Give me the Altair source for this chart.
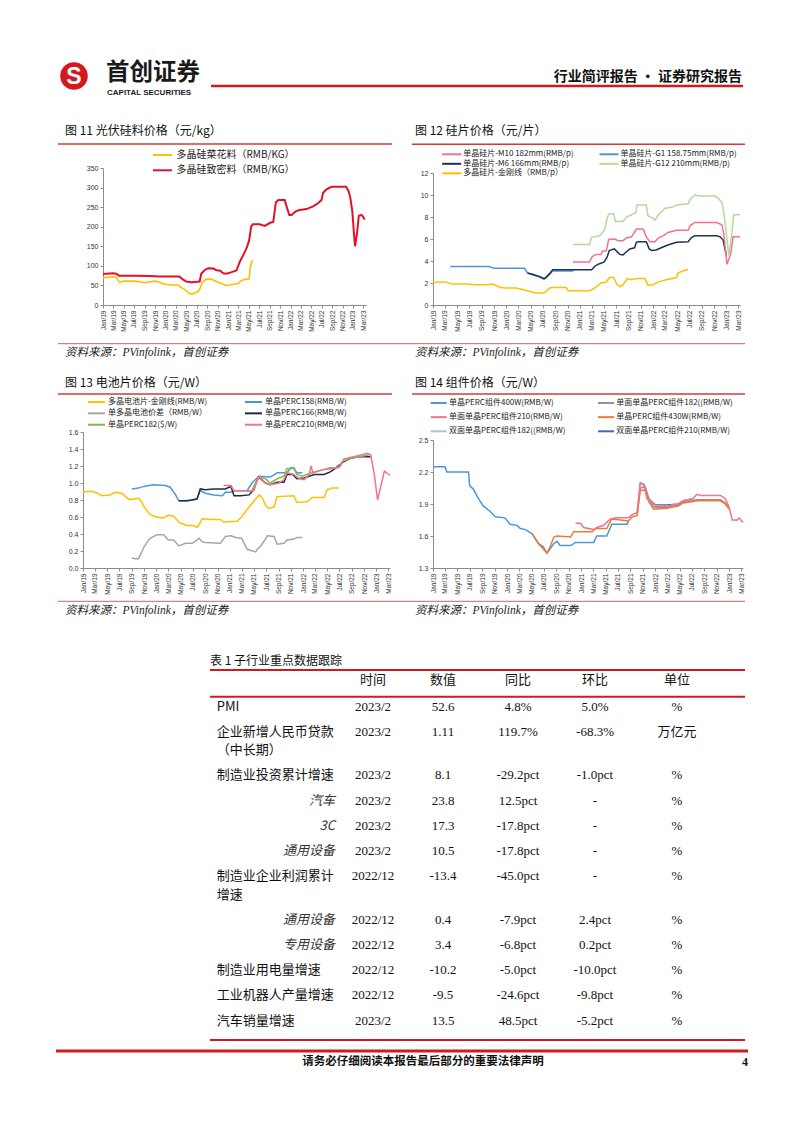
import altair as alt
import pandas as pd

CJK = "Noto Sans CJK SC"
SANS = "Liberation Sans"
SERIF = "Liberation Serif, Noto Sans CJK SC"
RED = "#D51820"
LINE_RED = "#D03A3A"

# ---------------- data: (months after Jan 2019, value) ----------------
F11_NAMES = ["多晶硅菜花料（RMB/KG）", "多晶硅致密料（RMB/KG）"]
F11_COLORS = ["#FFC000", "#E3102B"]
F11_CAULI = [(0,70),(1.9,72),(2.6,71),(3.1,60),(3.3,58),(4,61),(6.4,61),(8,57),(10,61),(11,58),(11.5,54),(12,53),(13,51),(14.5,51),(15,45),(15.7,40),(16.3,33),(16.7,29),(17.3,28),(18.3,35),(18.6,40),(19.1,58),(19.9,66),(20.8,66),(22.1,58),(23.1,53),(23.7,50),(25,53),(26,55),(26.6,62),(27.2,65),(27.9,66),(28.1,67),(28.3,95),(28.7,115)]
F11_DENSE = [(0,79),(1.9,81),(2.6,80),(3.1,75),(6.4,75),(9,74),(10.9,73),(14.7,73),(15.3,66),(16,60),(17,58),(18.6,60),(18.9,80),(19.6,90),(20.2,94),(21.2,93),(21.8,89),(22.4,88),(23.1,81),(23.7,80),(24.7,84),(25.6,88),(26.3,110),(26.9,125),(27.6,145),(28.1,165),(28.5,200),(28.8,206),(30.1,206),(31.1,202),(32.1,210),(32.7,212),(33.2,262),(33.7,268),(34.9,268),(35.3,250),(35.8,230),(36.2,230),(36.9,238),(37.5,242),(39.1,245),(40.4,252),(41.3,260),(42,268),(42.3,286),(42.9,295),(43.9,302),(46.7,302),(47.2,290),(47.5,275),(47.9,240),(48.2,180),(48.4,150),(48.8,185),(49.1,228),(49.6,230),(50,226),(50.3,218)]

F12_NAMES = ["单晶硅片-M10 182mm(RMB/p)", "单晶硅片-G1 158.75mm(RMB/p)", "单晶硅片-M6 166mm(RMB/p)", "单晶硅片-G12 210mm(RMB/p)", "多晶硅片-金刚线（RMB/p）"]
F12_COLORS = ["#F4728F", "#4E95D9", "#1F3050", "#B5D99C", "#FFC000"]
F12_M10 = [(22.9,3.9),(25.6,3.9),(26.1,4.4),(26.7,4.6),(27.5,4.6),(27.8,4.9),(28.4,4.9),(28.8,5.95),(29.8,6.0),(30.3,5.85),(31.1,5.85),(31.7,6.1),(32.5,6.2),(33.3,6.9),(34.4,6.9),(34.9,6.2),(35.5,5.75),(36.3,5.75),(36.9,6.1),(37.7,6.3),(38.5,6.6),(39.9,6.8),(41.8,6.8),(42.1,7.2),(42.9,7.5),(46.4,7.5),(47.3,7.3),(47.6,6.5),(48.1,3.7),(48.7,4.6),(49.1,6.2),(50.3,6.2)]
F12_G1 = [(2.9,3.5),(9.2,3.5),(10,3.33),(15,3.33),(15.5,2.9),(16.3,2.75),(17.4,2.55),(18.2,2.35),(18.5,2.45),(19.1,2.8),(19.6,3.1),(23.0,3.1)]
F12_M6 = [(15.5,2.9),(16.3,2.8),(17.4,2.6),(18.2,2.4),(18.5,2.5),(19.1,2.85),(19.6,3.2),(26,3.2),(26.5,3.5),(27,3.7),(27.5,3.8),(28,3.9),(28.5,4.3),(28.9,4.95),(29.7,5.1),(30.6,4.6),(31.1,4.55),(31.6,4.8),(32.2,5.1),(33,5.2),(33.3,5.7),(33.6,5.75),(34.9,5.75),(35.4,5.1),(35.8,4.95),(36.5,5.0),(37.7,5.3),(38.5,5.45),(39.9,5.7),(41.8,5.75),(42.3,6.1),(42.9,6.3),(46.4,6.3),(47,6.2),(47.5,5.9),(48,4.5)]
F12_G12 = [(22.9,5.5),(25.6,5.5),(25.9,6.15),(27.3,6.3),(28.1,6.8),(28.6,8.0),(28.9,8.3),(29.6,8.3),(29.9,7.6),(31.1,7.6),(31.7,8.0),(32.5,8.2),(33.2,8.4),(33.4,9.1),(34.9,9.1),(35.2,8.1),(36,7.9),(36.3,7.7),(36.9,8.2),(38,8.8),(39.3,8.9),(39.9,9.1),(41.8,9.2),(42.1,9.6),(42.9,10.0),(43.7,9.9),(46.2,9.9),(46.7,9.7),(47.3,9.3),(47.6,8.5),(48,6.5),(48.4,4.5),(48.9,6.5),(49.2,8.2),(50.3,8.2)]
F12_POLY = [(0,2.0),(0.7,2.1),(2.1,2.1),(2.6,2.0),(3.2,1.9),(5.6,1.9),(7,1.85),(8.7,1.85),(9.7,1.9),(10.3,1.8),(11.1,1.6),(11.9,1.55),(13.6,1.55),(14.7,1.4),(15.8,1.25),(16.9,1.1),(18,1.1),(18.5,1.2),(19.1,1.55),(19.6,1.6),(21.8,1.6),(22.1,1.3),(25.6,1.3),(26.7,1.6),(27.5,2.0),(28.4,2.1),(28.9,2.5),(29.6,2.5),(30.1,1.9),(30.6,1.7),(31.1,1.8),(31.8,2.4),(32.5,2.3),(33.3,2.4),(34.7,2.4),(35.2,1.8),(36,1.85),(36.9,2.1),(38.2,2.3),(39.9,2.5),(40.1,2.9),(41.5,3.2),(41.8,3.2)]

F13_NAMES = ["多晶电池片-金刚线(RMB/W)", "单晶PERC158(RMB/W)", "单多晶电池价差（RMB/W）", "单晶PERC166(RMB/W)", "单晶PERC182($/W)", "单晶PERC210(RMB/W)"]
F13_COLORS = ["#FFC000", "#4E95D9", "#A6A6A6", "#1F2A44", "#7CBF4A", "#F4728F"]
F13_POLY = [(0,0.89),(0.8,0.9),(1.7,0.9),(2.4,0.88),(3.1,0.85),(4.5,0.86),(5.3,0.89),(6.4,0.88),(7.5,0.81),(8.2,0.81),(9.1,0.82),(9.6,0.78),(10,0.72),(11,0.63),(12,0.6),(12.7,0.59),(13.2,0.59),(14,0.62),(14.9,0.61),(15.7,0.54),(16.3,0.52),(17,0.5),(18.1,0.5),(18.7,0.48),(19.1,0.52),(19.5,0.58),(21,0.57),(22.5,0.57),(23,0.54),(25.2,0.55),(26,0.6),(26.8,0.68),(27.7,0.76),(28.4,0.82),(28.9,0.86),(29.4,0.82),(29.9,0.74),(30.4,0.70),(31.3,0.72),(31.8,0.84),(34.5,0.85),(35,0.77),(36.7,0.78),(37.5,0.83),(39.5,0.83),(40,0.92),(40.8,0.94),(41.9,0.94)]
F13_P158 = [(8,0.93),(9.1,0.94),(10,0.96),(10.8,0.97),(11.6,0.98),(13.5,0.97),(14.3,0.95),(15.1,0.87),(15.7,0.79),(17,0.79),(18,0.8),(18.7,0.82),(19.2,0.91),(20,0.88),(21.4,0.86),(22.8,0.85),(23.3,0.89),(24.2,0.89),(24.7,0.91),(26.9,0.91),(27.7,1.0),(28.8,1.08),(30.7,1.07),(31.8,1.12),(33.4,1.12),(34,1.18),(34.5,1.18),(35,1.12),(35.9,1.12)]
F13_SPREAD = [(8,0.12),(8.5,0.11),(9.1,0.11),(9.6,0.18),(10,0.25),(11,0.35),(12.1,0.39),(13.2,0.39),(14,0.33),(14.9,0.33),(15.7,0.26),(16.8,0.29),(17.9,0.29),(18.5,0.32),(19,0.35),(19.5,0.31),(20,0.3),(22.5,0.29),(23.3,0.37),(24.2,0.38),(25,0.36),(26,0.35),(26.5,0.28),(26.9,0.22),(28.3,0.19),(28.6,0.22),(29.1,0.26),(29.7,0.32),(30.2,0.38),(31.3,0.37),(31.8,0.28),(32.9,0.29),(33.4,0.33),(34.5,0.34),(35,0.36),(35.9,0.36)]
F13_P166 = [(15.7,0.79),(17,0.79),(18.7,0.81),(19.2,0.93),(20,0.92),(21.4,0.93),(23.3,0.93),(24.2,0.96),(24.7,0.85),(25.8,0.85),(27.2,0.86),(27.7,0.9),(28.8,1.07),(29.9,1.0),(30.7,0.98),(31.8,1.01),(32.9,1.01),(33.4,1.1),(34.3,1.1),(35,1.05),(36.2,1.06),(37.8,1.1),(39.5,1.1),(40.5,1.13),(41.1,1.16),(42.7,1.25),(43.8,1.29),(45.2,1.31),(47.1,1.31)]
F13_P182 = [(26.9,0.9),(27.7,0.91),(28.8,1.07),(29.9,1.05),(30.7,1.0),(31.8,1.05),(32.9,1.08),(33.4,1.17),(34.5,1.17),(35,1.1),(35.9,1.08),(37.8,1.13),(39.5,1.16),(40.5,1.18),(41.9,1.18),(42.4,1.25),(43.8,1.29),(45.2,1.31),(46.8,1.33)]
F13_P210 = [(23,0.97),(24.2,0.97),(24.7,0.91),(26.9,0.91),(28,0.91),(28.8,1.08),(29.9,1.0),(30.7,0.98),(32.1,1.0),(32.9,1.04),(33.4,1.12),(34.5,1.1),(35.4,1.05),(36.2,1.04),(37,1.1),(37.3,1.2),(37.6,1.12),(39.5,1.16),(41.1,1.17),(42.2,1.2),(42.7,1.28),(43.8,1.3),(45.5,1.33),(46.6,1.35),(47.1,1.33),(47.7,1.1),(48.2,0.8),(48.7,0.95),(49.3,1.14),(50.1,1.1),(50.3,1.09)]

F14_NAMES = ["单晶PERC组件400W(RMB/W)", "单面单晶PERC组件182((RMB/W)", "单面单晶PERC组件210(RMB/W)", "单晶PERC组件430W(RMB/W)", "双面单晶PERC组件182((RMB/W)", "双面单晶PERC组件210(RMB/W)"]
F14_COLORS = ["#4E95D9", "#9C8F86", "#F4728F", "#ED7D31", "#A9C4E8", "#4664B4"]
F14_400 = [(0,2.25),(2,2.25),(2.3,2.2),(5.8,2.2),(6,2.07),(6.6,2.04),(7.4,1.95),(8.2,1.88),(9.3,1.83),(10.1,1.78),(11.7,1.77),(12.5,1.71),(13.6,1.7),(14.2,1.67),(15,1.66),(16.1,1.62),(17.1,1.53),(17.9,1.5),(18.5,1.44),(19,1.48),(19.6,1.53),(20.1,1.55),(20.6,1.51),(22.3,1.51),(23.1,1.54),(26.1,1.54),(26.6,1.6),(28.2,1.6),(29,1.71),(31.5,1.71),(31.7,1.74)]
F14_S182 = [(33.1,1.8),(33.6,2.05),(34.4,2.06),(35,1.95),(35.8,1.87),(37.9,1.87),(39.8,1.89),(40.6,1.92),(42,1.93),(42.8,1.94),(46.6,1.94),(47.4,1.91),(48,1.86)]
F14_S210 = [(23.1,1.72),(23.9,1.72),(24.4,1.68),(26.1,1.66),(26.6,1.68),(27.7,1.7),(28.8,1.76),(29.8,1.77),(31.7,1.77),(32.3,1.8),(33.1,1.82),(33.6,2.1),(34.2,2.08),(34.7,1.95),(35.5,1.92),(36.1,1.88),(37.9,1.88),(39.8,1.9),(40.6,1.93),(42,1.94),(42.8,1.99),(43.4,1.98),(45,1.98),(46.6,1.98),(47.4,1.95),(48,1.87),(48.5,1.75),(49.3,1.75),(49.6,1.77),(50.1,1.74),(50.35,1.73)]
F14_430 = [(16.1,1.62),(17.1,1.53),(18.5,1.44),(19,1.5),(19.6,1.59),(20.1,1.6),(22.3,1.59),(22.8,1.64),(25.8,1.64),(26.4,1.67),(28.2,1.67),(29,1.76),(31.7,1.74),(32.3,1.78),(33.1,1.79),(33.6,2.03),(34.4,2.03),(35,1.92),(35.8,1.85),(37.9,1.86),(39.8,1.88),(40.6,1.91),(42,1.92),(42.8,1.93),(46.6,1.93),(47.4,1.9),(48,1.85)]
F14_D182 = [(33.1,1.82),(33.6,2.09),(34.2,2.07),(34.7,1.95),(35.5,1.92),(36.1,1.88),(37.9,1.88),(39.8,1.9),(40.6,1.93),(42,1.95)]
F14_D210 = [(33.6,2.1),(34.2,2.08),(34.7,1.96),(35.5,1.92),(36.1,1.89),(37.9,1.89),(39.8,1.9),(40.6,1.93),(42,1.95)]

# table
HEADERS = ["时间", "数值", "同比", "环比", "单位"]
ROW_LABELS = ["PMI", "企业新增人民币贷款\n（中长期）", "制造业投资累计增速", "汽车", "3C", "通用设备",
              "制造业企业利润累计\n增速", "通用设备", "专用设备", "制造业用电量增速", "工业机器人产量增速", "汽车销量增速"]
ROW_SUB = [False, False, False, True, True, True, False, True, True, False, False, False]
TIMES = ["2023/2", "2023/2", "2023/2", "2023/2", "2023/2", "2023/2", "2022/12", "2022/12", "2022/12", "2022/12", "2022/12", "2023/2"]
VALUES = ["52.6", "1.11", "8.1", "23.8", "17.3", "10.5", "-13.4", "0.4", "3.4", "-10.2", "-9.5", "13.5"]
YOY = ["4.8%", "119.7%", "-29.2pct", "12.5pct", "-17.8pct", "-17.8pct", "-45.0pct", "-7.9pct", "-6.8pct", "-5.0pct", "-24.6pct", "48.5pct"]
MOM = ["5.0%", "-68.3%", "-1.0pct", "-", "-", "-", "-", "2.4pct", "0.2pct", "-10.0pct", "-9.8pct", "-5.2pct"]
UNIT = ["%", "万亿元", "%", "%", "%", "%", "%", "%", "%", "%", "%", "%"]

TICK_MONTHS = [(y, m) for y in range(2019, 2024) for m in (1, 3, 5, 7, 9, 11) if (y, m) <= (2023, 3)]

DUMMY = pd.DataFrame({"k": [0]})
BASE = pd.Timestamp("2019-01-01")


def to_date(m):
    mi = int(m)
    d = BASE + pd.DateOffset(months=mi) + pd.Timedelta(days=round((m - mi) * 30))
    return d.strftime("%Y-%m-%d")


def frame(pts):
    return pd.DataFrame({"d": [to_date(m) for m, _ in pts], "v": [v for _, v in pts]})


def dt(y, m, d):
    return alt.DateTime(year=y, month=m, date=d, utc=True)


def txt(x, y, s, size, font=CJK, align="left", weight="normal", style="normal", color="#111"):
    return alt.Chart(DUMMY).mark_text(text=s, align=align, baseline="middle", fontSize=size, font=font,
                                      fontWeight=weight, fontStyle=style, color=color
                                      ).encode(x=alt.value(x), y=alt.value(y))


def hrule(x1, x2, y, color, width):
    return alt.Chart(DUMMY).mark_rule(color=color, strokeWidth=width).encode(
        x=alt.value(x1), x2=alt.value(x2), y=alt.value(y))


def spacer(w, h):
    return alt.Chart(DUMMY).mark_point(opacity=0).encode(x=alt.value(0), y=alt.value(0)).properties(width=w, height=h)


def frame_spacer(w, h, top, bottom):
    # blank column whose white hairline fixes the vertical extent of a row
    return alt.Chart(DUMMY).mark_rule(color="#ffffff", strokeWidth=0.5).encode(
        x=alt.value(0.5), y=alt.value(top), y2=alt.value(bottom)).properties(width=w, height=h)


def legend(names, colors, cols, rows, xr, yr, nrow, size, dx, fs):
    ldf = pd.DataFrame({"label": names, "color": colors, "col": cols, "row": rows})
    base = alt.Chart(ldf).encode(
        x=alt.X("col:Q", scale=alt.Scale(domain=[0, 1], range=xr), axis=None),
        y=alt.Y("row:Q", scale=alt.Scale(domain=[0, nrow], range=yr), axis=None))
    ticks = base.mark_tick(orient="horizontal", size=size, thickness=2, opacity=1).encode(
        color=alt.Color("color:N", scale=None))
    labels = base.mark_text(align="left", baseline="middle", dx=dx, fontSize=fs, font=CJK, color="#222").encode(
        text="label:N")
    return alt.layer(ticks, labels)


def panel(series, colors, widths, order, ydom, yvals, yfmt, w, h, xend, leg, decos):
    xs = alt.Scale(type="utc", domain=[dt(2019, 1, 1), xend])
    ys = alt.Scale(domain=ydom, nice=False, zero=False)
    xax = alt.Axis(values=[dt(y, m, 1) for y, m in TICK_MONTHS],
                   labelExpr="utcFormat(datum.value, '%b/%y')",
                   labelAngle=270, labelFontSize=6.5, labelFont=SANS, labelColor="#333", labelPadding=2,
                   tickSize=3, tickColor="#8c8c8c", domainColor="#8c8c8c", labelOverlap=False,
                   labelFlush=False, title=None, grid=False)
    yax = alt.Axis(values=yvals, format=yfmt, labelFontSize=7, labelFont=SANS, labelColor="#333",
                   labelPadding=2, tickSize=3, tickColor="#8c8c8c", domainColor="#8c8c8c",
                   title=None, grid=False, labelFlush=False)
    lines = []
    for i in order:
        lines.append(alt.Chart(frame(series[i])).mark_line(color=colors[i], strokeWidth=widths[i]).encode(
            x=alt.X("d:T", scale=xs, axis=xax), y=alt.Y("v:Q", scale=ys, axis=yax)))
    return alt.layer(alt.layer(*lines), leg, *decos).resolve_scale(
        x="independent", y="independent").properties(width=w, height=h)


SRC = "资料来源：PVinfolink，首创证券"

# ---------------- panels ----------------
p11 = panel([F11_CAULI, F11_DENSE], F11_COLORS, [1.6, 2.0], [0, 1], [0, 350], list(range(0, 351, 50)), "d",
            263, 137, dt(2023, 3, 18),
            legend(F11_NAMES, F11_COLORS, [0, 0], [0, 1], [59.5, 60.5], [-13, 2.3], 1, 19, 14, 10),
            [txt(-38, -37, "图 11 光伏硅料价格（元/kg）", 12),
             hrule(-45, 289, -24, LINE_RED, 1.5),
             hrule(-45, 642, 175.7, "#C86464", 1),
             txt(-38, 184.7, SRC, 11.5, font=SERIF, style="italic", color="#222")])

p12 = panel([F12_M10, F12_G1, F12_M6, F12_G12, F12_POLY], F12_COLORS, [1.5] * 5, [1, 2, 0, 3, 4],
            [0, 12], list(range(0, 13, 2)), "d", 307, 132, dt(2023, 3, 10),
            legend(F12_NAMES, F12_COLORS, [0, 1, 0, 1, 0], [0, 0, 1, 1, 2], [18.7, 176], [-18.7, 0.3], 2, 19, 11.5, 8),
            [txt(-18, -42, "图 12 硅片价格（元/片）", 12),
             hrule(-21, 312, -28.7, LINE_RED, 1.5),
             txt(-18, 179.7, SRC, 11.5, font=SERIF, style="italic", color="#222")])

p13 = panel([F13_POLY, F13_P158, F13_SPREAD, F13_P166, F13_P182, F13_P210], F13_COLORS, [1.5] * 6,
            [0, 2, 1, 3, 4, 5], [0, 1.6], [0, 0.2, 0.4, 0.6, 0.8, 1.0, 1.2, 1.4, 1.6], ".1f", 307, 136,
            dt(2023, 3, 10),
            legend(F13_NAMES, F13_COLORS, [0, 1, 0, 1, 0, 1], [0, 0, 1, 1, 2, 2], [13.5, 170.5], [-30, -7.3], 2, 17, 11.5, 8),
            [txt(-18, -49, "图 13 电池片价格（元/W）", 12),
             hrule(-25, 309, -38, LINE_RED, 1.5),
             hrule(-25, 662, 169.3, "#C86464", 1),
             txt(-18, 179.3, SRC, 11.5, font=SERIF, style="italic", color="#222")])

p14 = panel([F14_400, F14_S182, F14_S210, F14_430, F14_D182, F14_D210], F14_COLORS, [1.5] * 6,
            [5, 4, 1, 0, 3, 2], [1.3, 2.5], [1.3, 1.6, 1.9, 2.2, 2.5], ".1f", 310, 128, dt(2023, 3, 10),
            legend(F14_NAMES, F14_COLORS, [0, 1, 0, 1, 0, 1], [0, 0, 1, 1, 2, 2], [5.7, 173], [-37, -8.7], 2, 16, 10.3, 8),
            [txt(-18, -57, "图 14 组件价格（元/W）", 12),
             hrule(-21, 312, -46, LINE_RED, 1.5),
             txt(-18, 171.3, SRC, 11.5, font=SERIF, style="italic", color="#222")])

# ---------------- header ----------------
header = alt.layer(
    alt.Chart(DUMMY).mark_circle(size=760, color=RED, opacity=1).encode(x=alt.value(66), y=alt.value(68)),
    txt(66, 69, "S", 23, font=SANS, align="center", weight="bold", color="#ffffff"),
    txt(98, 64.5, "首创证券", 23.5, weight="bold", color="#1a1a1a"),
    txt(99, 84.5, "CAPITAL SECURITIES", 8, font=SANS, weight="bold", color="#1a1a1a"),
    hrule(203, 735, 78, RED, 2.5),
    txt(734, 68.5, "行业简评报告 · 证券研究报告", 14, align="right", weight="bold", color="#111"),
).properties(width=786, height=114)

# ---------------- table + footer ----------------
pos = []
p = 0.0
for lab in ROW_LABELS:
    pos.append(p)
    p += 1 + (0.725 if "\n" in lab else 0)

cells = pd.DataFrame([{"ci": ci, "pos": pos[i], "t": col[i]}
                      for ci, col in enumerate([TIMES, VALUES, YOY, MOM, UNIT]) for i in range(len(TIMES))])
main_lab = pd.DataFrame([{"pos": pos[i] + 0.725 * j, "t": line}
                         for i, lab in enumerate(ROW_LABELS) if not ROW_SUB[i]
                         for j, line in enumerate(lab.split("\n"))])
sub_lab = pd.DataFrame([{"pos": pos[i], "t": lab} for i, lab in enumerate(ROW_LABELS) if ROW_SUB[i]])
hdr = pd.DataFrame({"ci": list(range(5)), "t": HEADERS})

col_x = alt.Scale(domain=[0, 1, 2, 3, 4], range=[365, 435, 510, 587, 669])
row_y = alt.Scale(domain=[0, 12.45], range=[83.7, 397.7])

rest = alt.layer(
    txt(202, 38, "表 1 子行业重点数据跟踪", 12),
    hrule(202, 737, 47, RED, 2),
    alt.Chart(hdr).mark_text(fontSize=13, font=CJK, color="#111", baseline="middle").encode(
        x=alt.X("ci:Q", scale=col_x, axis=None), y=alt.value(57), text="t:N"),
    hrule(202, 737, 73.7, RED, 2),
    alt.Chart(cells).mark_text(fontSize=13, font=SERIF, color="#111", baseline="middle").encode(
        x=alt.X("ci:Q", scale=col_x, axis=None), y=alt.Y("pos:Q", scale=row_y, axis=None), text="t:N"),
    alt.Chart(main_lab).mark_text(fontSize=13, font=CJK, color="#111", align="left", baseline="middle").encode(
        x=alt.value(208.7), y=alt.Y("pos:Q", scale=row_y, axis=None), text="t:N"),
    alt.Chart(sub_lab).mark_text(fontSize=13, font=CJK, color="#333", align="right", baseline="middle",
                                 fontStyle="italic").encode(
        x=alt.value(327), y=alt.Y("pos:Q", scale=row_y, axis=None), text="t:N"),
    hrule(202, 737, 417, RED, 2),
    hrule(48, 740, 428, RED, 3),
    txt(415, 439, "请务必仔细阅读本报告最后部分的重要法律声明", 11.5, align="center", weight="bold"),
    txt(740, 439, "4", 12, font=SERIF, align="right", weight="bold"),
).properties(width=786, height=460)

row1 = alt.hconcat(frame_spacer(95, 137, -45, 200), p11, spacer(67, 137),
                   alt.vconcat(spacer(307, 5), p12, spacing=0, bounds="flush"),
                   spacing=0, bounds="flush")
row2 = alt.hconcat(frame_spacer(75, 136, -62, 190), p13, spacer(43, 136),
                   alt.vconcat(spacer(310, 8), p14, spacing=0, bounds="flush"),
                   spacing=0, bounds="flush")

chart = alt.vconcat(header, row1, row2, rest, spacing=0).properties(
    padding=0).configure_view(stroke=None)

chart.save("out.html", embed_options={"renderer": "svg", "actions": False})
